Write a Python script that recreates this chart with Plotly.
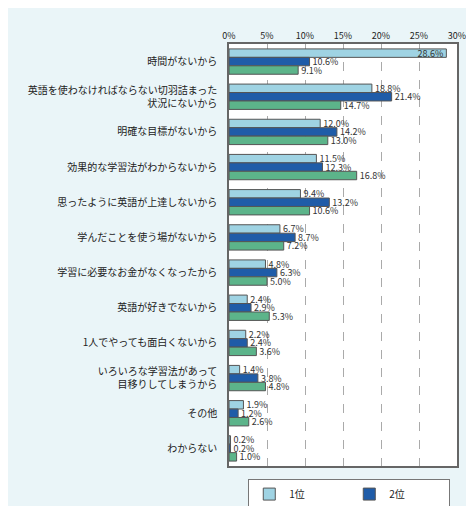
import plotly.graph_objects as go

reasons = ["時間がないから",
           "英語を使わなければならない切羽詰まった<br>状況にないから",
           "明確な目標がないから",
           "効果的な学習法がわからないから",
           "思ったように英語が上達しないから",
           "学んだことを使う場がないから",
           "学習に必要なお金がなくなったから",
           "英語が好きでないから",
           "1人でやっても面白くないから",
           "いろいろな学習法があって<br>目移りしてしまうから",
           "その他",
           "わからない"]
rank1 = [28.6, 18.8, 12.0, 11.5, 9.4, 6.7, 4.8, 2.4, 2.2, 1.4, 1.9, 0.2]
rank2 = [10.6, 21.4, 14.2, 12.3, 13.2, 8.7, 6.3, 2.9, 2.4, 3.8, 1.2, 0.2]
rank3 = [9.1, 14.7, 13.0, 16.8, 10.6, 7.2, 5.0, 5.3, 3.6, 4.8, 2.6, 1.0]
series = [("1位", rank1, "#9fd3e3"), ("2位", rank2, "#1f5ca8"), ("3位", rank3, "#5cb48a")]

fig = go.Figure()
for name, vals, col in series:
    fig.add_trace(go.Bar(
        y=reasons, x=vals, name=name, orientation="h",
        marker=dict(color=col, line=dict(color="#555555", width=1)),
        text=[f"{v:.1f}%" for v in vals],
        textposition=["inside" if v > 25 else "outside" for v in vals],
        insidetextanchor="end", constraintext="none",
        textfont=dict(size=9, color="#333333"),
        cliponaxis=False,
    ))

fig.update_layout(
    width=474, height=506,
    barmode="group", bargap=0.28, bargroupgap=0,
    paper_bgcolor="#eaf5f8", plot_bgcolor="white",
    font=dict(family="Noto Sans CJK JP", size=10, color="#222222"),
    margin=dict(l=221, r=25, t=36, b=48),
    legend=dict(orientation="h", xref="container", x=0.72, xanchor="center",
                yref="container", y=0.07, yanchor="top",
                bordercolor="#777777", borderwidth=1, bgcolor="white",
                font=dict(size=10), entrywidth=55),
    xaxis=dict(side="top", range=[0, 30], dtick=5, ticksuffix="%",
               showgrid=True, gridcolor="#aaaaaa", griddash="dash",
               showline=True, linecolor="#666666", mirror=True, linewidth=1.5,
               tickfont=dict(size=9), zeroline=False),
    yaxis=dict(autorange="reversed", showline=True, linecolor="#666666",
               mirror=True, linewidth=1.5, ticks="", ticklabelstandoff=8),
)
fig.write_html("out.html")
